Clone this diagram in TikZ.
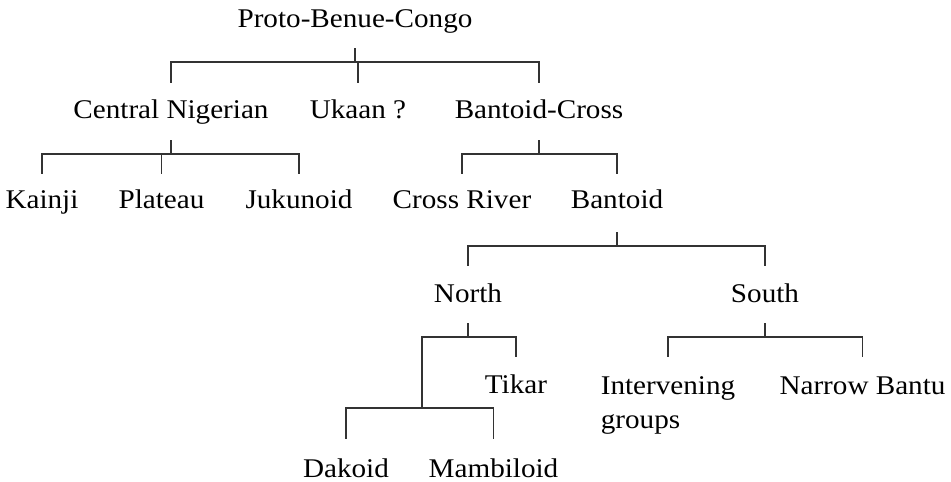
\documentclass[tikz,border=0pt]{standalone}
\usepackage{fontspec}
\setmainfont{Liberation Serif}[FakeStretch=1.08]
\begin{document}
\begin{tikzpicture}[x=1pt,y=-1pt,
  lbl/.style={anchor=base, inner sep=0pt, outer sep=0pt, text=black,
              font=\fontsize{27}{34}\selectfont},
  br/.style={line width=1.1pt, draw=black!80}]
\useasboundingbox (0,0) rectangle (951,482);
% labels
\node[lbl] (root) at (355,27) {Proto-Benue-Congo};
\node[lbl] (cn)   at (171,118) {Central Nigerian};
\node[lbl] (uk)   at (358,118) {Ukaan ?};
\node[lbl] (bc)   at (539,118) {Bantoid-Cross};
\node[lbl] (kai)  at (42,208) {Kainji};
\node[lbl] (pla)  at (161.5,208) {Plateau};
\node[lbl] (juk)  at (299,208) {Jukunoid};
\node[lbl] (cr)   at (462,208) {Cross River};
\node[lbl] (ban)  at (617,208) {Bantoid};
\node[lbl] (nor)  at (468,302) {North};
\node[lbl] (sou)  at (765,302) {South};
\node[lbl] (tik)  at (516,393) {Tikar};
\node[lbl] (int)  at (668,394) {\begin{tabular}[t]{@{}l@{}}Intervening\\groups\end{tabular}};
\node[lbl] (nb)   at (862.5,394) {Narrow Bantu};
\node[lbl] (dak)  at (346,477) {Dakoid};
\node[lbl] (mam)  at (493.5,477) {Mambiloid};
% junctions
\coordinate (jR)   at (355,62);
\coordinate (jCN)  at (171,154);
\coordinate (jBC)  at (539,154);
\coordinate (jBan) at (617,246);
\coordinate (jN)   at (468,337);
\coordinate (jS)   at (765,337);
\coordinate (jX)   at (422,408);
% root
\draw[br] ([yshift=-21pt]root.base) -- (jR);
\draw[br] (jR) -| ([yshift=35pt]cn.base);
\draw[br] (jR) -| ([yshift=35pt]uk.base);
\draw[br] (jR) -| ([yshift=35pt]bc.base);
% Central Nigerian
\draw[br] ([yshift=-22pt]cn.base) -- (jCN);
\draw[br] (jCN) -| ([yshift=34pt]kai.base);
\draw[br] (jCN) -| ([yshift=34pt]pla.base);
\draw[br] (jCN) -| ([yshift=34pt]juk.base);
% Bantoid-Cross
\draw[br] ([yshift=-22pt]bc.base) -- (jBC);
\draw[br] (jBC) -| ([yshift=34pt]cr.base);
\draw[br] (jBC) -| ([yshift=34pt]ban.base);
% Bantoid
\draw[br] ([yshift=-24pt]ban.base) -- (jBan);
\draw[br] (jBan) -| ([yshift=36pt]nor.base);
\draw[br] (jBan) -| ([yshift=36pt]sou.base);
% North
\draw[br] ([yshift=-21pt]nor.base) -- (jN);
\draw[br] (jN) -| ([yshift=36pt]tik.base);
\draw[br] (jN) -| (jX);
\draw[br] (jX) -| ([yshift=38pt]dak.base);
\draw[br] (jX) -| ([yshift=38pt]mam.base);
% South
\draw[br] ([yshift=-21pt]sou.base) -- (jS);
\draw[br] (jS) -| ([yshift=37pt]int.base);
\draw[br] (jS) -| ([yshift=37pt]nb.base);
\end{tikzpicture}
\end{document}
